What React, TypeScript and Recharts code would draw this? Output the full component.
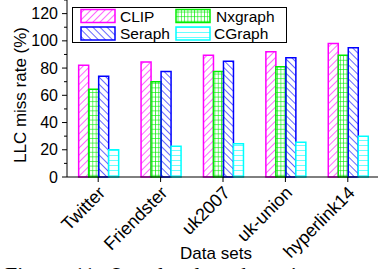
import React from "react";
import { BarChart, Bar, XAxis, YAxis, Legend } from "recharts";

const datasets = ["Twitter", "Friendster", "uk2007", "uk-union", "hyperlink14"];
const clip = [82, 84.5, 89.5, 92, 98];
const nxgraph = [64.5, 70, 77.5, 81, 89.5];
const seraph = [74, 77.5, 85, 87.5, 95];
const cgraph = [20, 22.5, 24.5, 25.5, 30];
const yTicks = [0, 10, 20, 30, 40, 50, 60, 70, 80, 90, 100, 110, 120, 130];
const yLabeled = [0, 20, 40, 60, 80, 100, 120];

const series = [
  { key: "CLIP", color: "#ff00ff", pat: "p-clip" },
  { key: "Nxgraph", color: "#00ee00", pat: "p-nx" },
  { key: "Seraph", color: "#0000ff", pat: "p-seraph" },
  { key: "CGraph", color: "#00ffff", pat: "p-cgraph" },
];

const data = datasets.map((name, i) => ({
  name,
  CLIP: clip[i],
  Nxgraph: nxgraph[i],
  Seraph: seraph[i],
  CGraph: cgraph[i],
}));

const font = "'Liberation Sans', Arial, sans-serif";

const LeftTick = ({ x, y, payload }: any) => {
  const major = yLabeled.includes(payload.value);
  return (
    <g>
      <line x1={x} y1={y} x2={x - (major ? 5 : 3)} y2={y} stroke="#000" />
      {major && (
        <text x={x - 9} y={y + 5.5} textAnchor="end" fontSize={16} fontFamily={font} fill="#000">
          {payload.value}
        </text>
      )}
    </g>
  );
};

const RightTick = ({ x, y, payload }: any) => {
  const major = yLabeled.includes(payload.value);
  return <line x1={x} y1={y} x2={x - (major ? 5 : 3)} y2={y} stroke="#000" />;
};

const TopTick = ({ x, y }: any) => <line x1={x} y1={y} x2={x} y2={y + 6} stroke="#000" />;

const CategoryTick = ({ x, y, payload }: any) => (
  <g>
    <line x1={x} y1={y} x2={x} y2={y + 5} stroke="#000" />
    <text
      x={x + 8}
      y={y + 17}
      transform={`rotate(-45 ${x + 8} ${y + 17})`}
      textAnchor="end"
      fontSize={18}
      fontFamily={font}
      fill="#000"
    >
      {payload.value}
    </text>
  </g>
);

const LegendBox = () => {
  const pos = [
    { sx: 9, sy: 2.5, tx: 48, ty: 14.5 },
    { sx: 104, sy: 2.5, tx: 144, ty: 14.5 },
    { sx: 9, sy: 20, tx: 48, ty: 32 },
    { sx: 104, sy: 20, tx: 142, ty: 32 },
  ];
  return (
    <svg width={215} height={36}>
      <rect x={0.5} y={0.5} width={214} height={35} fill="#fff" stroke="#000" />
      {series.map((s, i) => (
        <g key={s.key}>
          <rect
            x={pos[i].sx}
            y={pos[i].sy}
            width={34}
            height={13}
            fill={`url(#${s.pat})`}
            stroke={s.color}
            strokeWidth={1.5}
          />
          <text x={pos[i].tx} y={pos[i].ty} fontSize={15.5} fontFamily={font} fill="#000">
            {s.key}
          </text>
        </g>
      ))}
    </svg>
  );
};

export default function App() {
  return (
    <div style={{ position: "absolute", left: 0, top: 0, width: 378, height: 269, overflow: "hidden", background: "#fff" }}>
      <BarChart
        width={380}
        height={269}
        data={data}
        margin={{ top: 0, right: 1, left: 0, bottom: 0 }}
        barCategoryGap="18.7%"
        barGap={0}
      >
        <defs>
          <pattern id="p-clip" patternUnits="userSpaceOnUse" width={5} height={5} patternTransform="rotate(45)">
            <line x1={0} y1={0} x2={0} y2={5} stroke="#ff00ff" strokeWidth={1.2} />
          </pattern>
          <pattern id="p-seraph" patternUnits="userSpaceOnUse" width={5} height={5} patternTransform="rotate(-45)">
            <line x1={0} y1={0} x2={0} y2={5} stroke="#0000ff" strokeWidth={1.2} />
          </pattern>
          <pattern id="p-nx" patternUnits="userSpaceOnUse" width={3.3} height={4.6}>
            <rect width={3.3} height={4.6} fill="#fff" />
            <line x1={0} y1={0} x2={0} y2={4.6} stroke="#00ee00" strokeWidth={1.2} />
            <line x1={0} y1={0} x2={3.3} y2={0} stroke="#00ee00" strokeWidth={1.2} />
          </pattern>
          <pattern id="p-cgraph" patternUnits="userSpaceOnUse" width={5} height={5}>
            <rect width={5} height={5} fill="#fff" />
            <line x1={0} y1={0} x2={5} y2={0} stroke="#00ffff" strokeWidth={1.2} />
          </pattern>
        </defs>
        <XAxis dataKey="name" height={92} tickSize={0} tickMargin={0} tickLine={false} interval={0} axisLine={{ stroke: "#000" }} tick={<CategoryTick />} />
        <XAxis xAxisId="top" dataKey="name" orientation="top" height={0} tickSize={0} tickMargin={0} tickLine={false} interval={0} axisLine={{ stroke: "#000" }} tick={<TopTick />} />
        <YAxis width={67} domain={[0, 130]} ticks={yTicks} interval={0} tickSize={0} tickMargin={0} tickLine={false} axisLine={{ stroke: "#000" }} tick={<LeftTick />} />
        <YAxis yAxisId="right" orientation="right" width={0} domain={[0, 130]} ticks={yTicks} interval={0} tickSize={0} tickMargin={0} tickLine={false} axisLine={{ stroke: "#000" }} tick={<RightTick />} />
        <Legend
          layout="horizontal"
          verticalAlign="middle"
          align="center"
          wrapperStyle={{ left: 72, top: 7, width: 215, height: 36 }}
          content={() => <LegendBox />}
        />
        {series.map((s) => (
          <Bar
            key={s.key}
            dataKey={s.key}
            fill={`url(#${s.pat})`}
            stroke={s.color}
            strokeWidth={1.5}
            isAnimationActive={false}
          />
        ))}
        <text
          x={26}
          y={95}
          transform="rotate(-90 26 95)"
          textAnchor="middle"
          fontSize={17}
          fontFamily={font}
          fill="#000"
        >
          LLC miss rate (%)
        </text>
        <text x={216} y={259} textAnchor="middle" fontSize={17} fontFamily={font} fill="#000">
          Data sets
        </text>
      </BarChart>
      <div
        style={{
          position: "absolute",
          left: 5,
          top: 264,
          fontFamily: "'Liberation Serif', 'Times New Roman', serif",
          fontSize: 22,
          lineHeight: "22px",
          whiteSpace: "nowrap",
          wordSpacing: 6,
        }}
      >
        Figure 11: Last-level cache miss rate
      </div>
    </div>
  );
}
